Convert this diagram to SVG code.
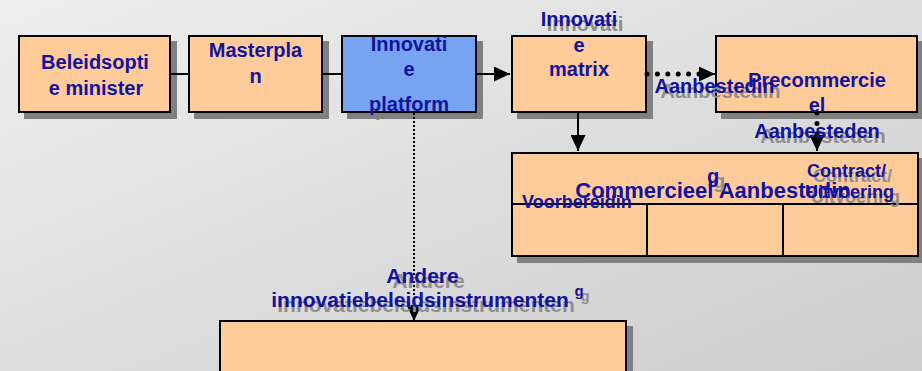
<svg xmlns="http://www.w3.org/2000/svg" width="922" height="371" viewBox="0 0 922 371">
<defs>
<linearGradient id="bg" x1="0" y1="0" x2="1" y2="1">
<stop offset="0" stop-color="#efefef"/>
<stop offset="1" stop-color="#cdcdcd"/>
</linearGradient>
<marker id="ah" markerUnits="userSpaceOnUse" markerWidth="17" markerHeight="15" refX="16" refY="7.5" orient="auto">
<path d="M0,0 L16,7.5 L0,15 z" fill="#000"/>
</marker>
<style>
.box{fill:#ffcc99;stroke:#000;stroke-width:2}
.blue{fill:#76a4f2}
.sh{fill:#808080}
text{font-family:"Liberation Sans",Arial,sans-serif;font-weight:bold;font-size:20px;text-anchor:middle}
.t{fill:#1212a0}
.ts{fill:#8e8e8e}
.ln{fill:none;stroke:#000;stroke-width:2}
.dots{fill:none;stroke:#000;stroke-width:5;stroke-linecap:round;stroke-dasharray:0 10.4}
.fine{fill:none;stroke:#000;stroke-width:2;stroke-dasharray:2 2}
.grid{fill:none;stroke:#000;stroke-width:2}
</style>
</defs>
<rect x="0" y="0" width="922" height="371" fill="url(#bg)"/>

<!-- shadows of in-box texts (behind boxes) -->
<g id="box-text-shadows" class="ts">
<text x="415" y="116">platform</text>
<text x="585" y="31">Innovati</text>
<text x="823" y="143">Aanbesteden</text>
</g>

<!-- box shadows -->
<g id="box-shadows" class="sh">
<rect x="24" y="41" width="153" height="78"/>
<rect x="194" y="41" width="135" height="78"/>
<rect x="347" y="41" width="136" height="78"/>
<rect x="517" y="41" width="136" height="78"/>
<rect x="721" y="41" width="203" height="78"/>
<rect x="517" y="158" width="408" height="105"/>
<rect x="225" y="326" width="408" height="60"/>
</g>

<g id="node-beleidsoptie">
<rect class="box" x="19" y="36" width="151" height="76"/>
</g>
<g id="node-masterplan">
<rect class="box" x="189" y="36" width="133" height="76"/>
</g>
<g id="node-innovatieplatform">
<rect class="box blue" x="342" y="36" width="134" height="76"/>
</g>
<g id="node-innovatiematrix">
<rect class="box" x="512" y="36" width="134" height="76"/>
</g>
<g id="node-precommercieel">
<rect class="box" x="716" y="36" width="201" height="76"/>
</g>
<g id="node-commercieel">
<rect class="box" x="512" y="153" width="406" height="103"/>
<path class="grid" d="M512,204 H918 M647,204 V256 M783,204 V256"/>
</g>
<g id="node-andere">
<rect class="box" x="220" y="321" width="406" height="70"/>
</g>

<g id="connectors">
<path class="ln" d="M170,74 H189"/>
<path class="ln" d="M322,74 H342"/>
<path class="ln" d="M476,74 H510" marker-end="url(#ah)"/>
<path class="dots" d="M647,74 H703"/>
<path class="ln" d="M700,74 H715" marker-end="url(#ah)"/>
<path class="ln" d="M578,112 V151" marker-end="url(#ah)"/>
<path class="dots" d="M817,113 V140"/>
<path class="ln" d="M817,136 V151" marker-end="url(#ah)"/>
<path class="fine" d="M414,113 V312"/>
<path class="ln" d="M414,308 V321" marker-end="url(#ah)"/>
</g>

<!-- box texts -->
<g id="box-texts" class="t">
<text x="95" y="69">Beleidsopti</text>
<text x="96" y="95">e minister</text>
<text x="255.5" y="57">Masterpla</text>
<text x="255.5" y="83">n</text>
<text x="409" y="51">Innovati</text>
<text x="409" y="76">e</text>
<text x="409" y="111">platform</text>
<text x="579" y="26">Innovati</text>
<text x="579" y="52">e</text>
<text x="579" y="76">matrix</text>
<text x="817" y="87">Precommercie</text>
<text x="817" y="112">el</text>
<text x="817" y="138">Aanbesteden</text>
<text x="713" y="198" style="font-size:22px">Commercieel Aanbestedin</text>
<text x="522" y="208" style="font-size:18px;text-anchor:start">Voorbereidin</text>
</g>

<!-- free labels with shadows -->
<g id="label-aanbesteding">
<text class="ts" x="720.5" y="98">Aanbestedin</text>
<text class="t" x="714.5" y="93">Aanbestedin</text>
</g>
<g id="label-g">
<text class="ts" x="719" y="188">g</text>
<text class="t" x="713" y="183">g</text>
</g>
<g id="label-contract">
<text class="ts" x="813" y="182" style="font-size:18px;text-anchor:start">Contract/</text>
<text class="ts" x="811" y="203" style="font-size:18px;text-anchor:start">Uitvoering</text>
<text class="t" x="807" y="177" style="font-size:18px;text-anchor:start">Contract/</text>
<text class="t" x="805" y="198" style="font-size:18px;text-anchor:start">Uitvoering</text>
</g>
<g id="label-andere">
<text class="ts" x="428.5" y="288" style="font-size:21px">Andere</text>
<text class="ts" x="426" y="312" style="font-size:21px">innovatiebeleidsinstrumenten</text>
<text class="ts" x="585" y="301" style="font-size:15px">g</text>
<text class="t" x="422.5" y="283" style="font-size:21px">Andere</text>
<text class="t" x="420" y="307" style="font-size:21px">innovatiebeleidsinstrumenten</text>
<text class="t" x="579" y="296" style="font-size:15px">g</text>
</g>
</svg>
